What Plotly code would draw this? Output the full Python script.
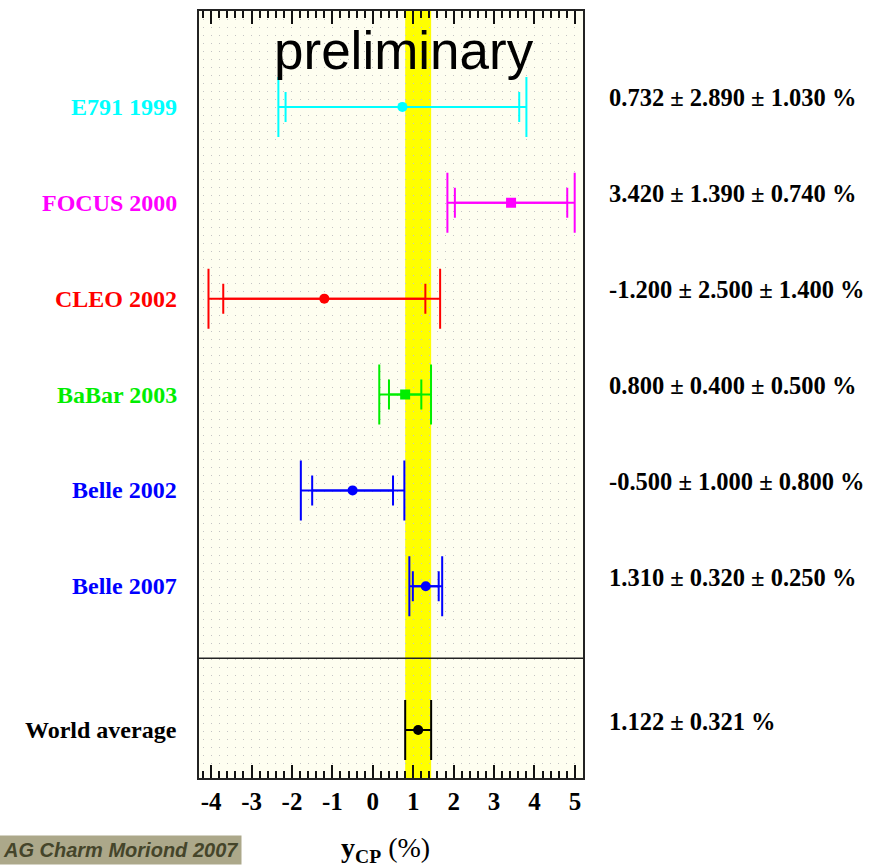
import plotly.graph_objects as go

# Measurements of y_CP (%): central value, statistical and systematic errors
experiments = ["E791 1999", "FOCUS 2000", "CLEO 2002", "BaBar 2003", "Belle 2002", "Belle 2007"]
values = [0.732, 3.420, -1.200, 0.800, -0.500, 1.310]
stat_err = [2.890, 1.390, 2.500, 0.400, 1.000, 0.320]
syst_err = [1.030, 0.740, 1.400, 0.500, 0.800, 0.250]
colors = ["#00ffff", "#ff00ff", "#ff0000", "#00ee00", "#0000ff", "#0000ff"]
symbols = ["circle", "square", "circle", "square", "circle", "circle"]
rows = [7, 6, 5, 4, 3, 2]

# World average
wa_label = "World average"
wa_value = 1.122
wa_err = 0.321
wa_row = 0.5
separator_row = 1.25

tick_values = [-4, -3, -2, -1, 0, 1, 2, 3, 4, 5]
tick_labels = ["-4", "-3", "-2", "-1", "0", "1", "2", "3", "4", "5"]

fig = go.Figure()

serif = "Liberation Serif"

for name, v, s, sy, c, sym, r in zip(experiments, values, stat_err, syst_err, colors, symbols, rows):
    tot = (s ** 2 + sy ** 2) ** 0.5
    # statistical error bar (inner caps)
    fig.add_trace(go.Scatter(
        x=[v], y=[r], mode="markers",
        marker=dict(size=1, color=c, opacity=0),
        error_x=dict(type="data", array=[s], width=15, thickness=2, color=c),
        showlegend=False, hoverinfo="skip"))
    # total error bar (outer caps) with central value marker
    fig.add_trace(go.Scatter(
        x=[v], y=[r], mode="markers",
        marker=dict(size=10, color=c, symbol=sym),
        error_x=dict(type="data", array=[tot], width=30, thickness=2, color=c),
        showlegend=False, name=name))
    fig.add_annotation(x=-0.053, xref="paper", y=r, yref="y", text=f"<b>{name}</b>",
                       showarrow=False, xanchor="right", yanchor="middle",
                       font=dict(family=serif, size=24, color=c))
    fig.add_annotation(x=1.062, xref="paper", y=r, yref="y", yshift=9,
                       text=f"<b>{v:.3f} \u00b1 {s:.3f} \u00b1 {sy:.3f} %</b>",
                       showarrow=False, xanchor="left", yanchor="middle",
                       font=dict(family=serif, size=24.5, color="black"))

# World average point
fig.add_trace(go.Scatter(
    x=[wa_value], y=[wa_row], mode="markers",
    marker=dict(size=10, color="black", symbol="circle"),
    error_x=dict(type="data", array=[wa_err], width=30, thickness=2, color="black"),
    showlegend=False, name=wa_label))
fig.add_annotation(x=-0.053, xref="paper", y=wa_row, yref="y", text=f"<b>{wa_label}</b>",
                   showarrow=False, xanchor="right", yanchor="middle",
                   font=dict(family=serif, size=24, color="black"))
fig.add_annotation(x=1.062, xref="paper", y=wa_row, yref="y", yshift=9,
                   text=f"<b>{wa_value:.3f} \u00b1 {wa_err:.3f} %</b>",
                   showarrow=False, xanchor="left", yanchor="middle",
                   font=dict(family=serif, size=24.5, color="black"))

# World-average band
fig.add_shape(type="rect", xref="x", yref="paper",
              x0=wa_value - wa_err, x1=wa_value + wa_err, y0=0, y1=1,
              fillcolor="#ffff00", line=dict(width=0), layer="between")

# Separator between measurements and average
fig.add_shape(type="line", xref="paper", yref="y", x0=0, x1=1,
              y0=separator_row, y1=separator_row,
              line=dict(color="#222222", width=1.5))

fig.add_annotation(x=0.534, xref="paper", y=0.948, yref="paper", text="preliminary",
                   showarrow=False, xanchor="center", yanchor="middle",
                   font=dict(family="Liberation Sans", size=53, color="black"))

# Axis title
fig.add_annotation(x=0.485, xref="paper", y=-0.093, yref="paper",
                   text="<b>y</b><sub><b>CP</b></sub> (%)",
                   showarrow=False, xanchor="center", yanchor="middle",
                   font=dict(family=serif, size=28, color="black"))

# Logo strip in the lower-left corner
fig.add_annotation(x=-0.521, xref="paper", y=-0.0936, yref="paper",
                   text="<b><i>AG Charm Moriond 2007</i></b>",
                   showarrow=False, xanchor="left", yanchor="middle",
                   bgcolor="#aca88a", borderpad=3,
                   font=dict(family="Liberation Sans", size=20, color="#45452a"))

fig.update_xaxes(
    range=[-4.3, 5.2], tickvals=tick_values, ticktext=tick_labels,
    ticks="inside", ticklen=13, tickwidth=2, tickcolor="#111111",
    showline=True, linewidth=2, linecolor="#222222", mirror="ticks",
    showgrid=True, gridcolor="#c4c4c4", gridwidth=1, griddash="1px,7px",
    zeroline=False,
    minor=dict(dtick=0.2, tick0=0, ticks="inside", ticklen=7, tickwidth=1.5,
               tickcolor="#111111", showgrid=True, gridcolor="#c4c4c4",
               gridwidth=1, griddash="1px,7px"),
    tickfont=dict(family=serif, size=25, color="black", weight="bold"),
)
fig.update_yaxes(
    range=[0, 8], showticklabels=False, ticks="", showgrid=False, zeroline=False,
    showline=True, linewidth=2, linecolor="#222222", mirror=True,
)

fig.update_layout(
    width=884, height=866,
    margin=dict(l=199, r=301, t=9, b=88),
    paper_bgcolor="white", plot_bgcolor="#fefef0",
    showlegend=False,
)

fig.write_html("out.html")
